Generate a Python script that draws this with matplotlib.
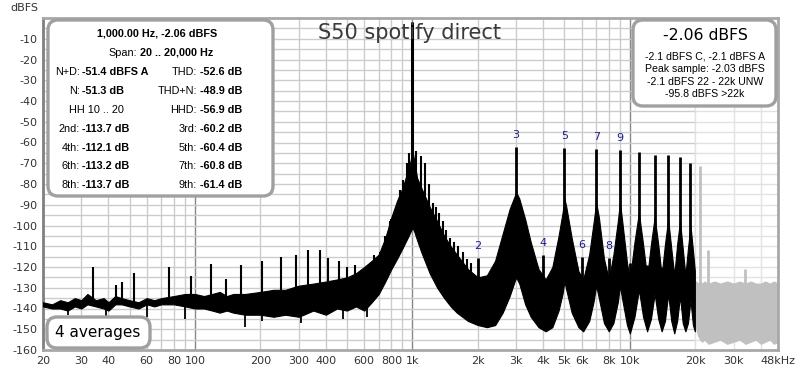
import matplotlib
matplotlib.use('Agg')
import matplotlib.pyplot as plt
import numpy as np
from matplotlib.patches import FancyBboxPatch
from matplotlib.ticker import FixedLocator, NullLocator

plt.rcParams['font.family'] = ['DejaVu Sans']

# spectrum band: frequency (Hz), top and bottom of the black trace (dBFS)
band_freq = [
    20, 22, 24, 26, 28, 30, 32, 35, 38, 40,
    43, 46, 50, 55, 60, 65, 70, 80, 90, 100,
    110, 120, 130, 140, 150, 170, 200, 230, 260, 300,
    350, 400, 450, 500, 550, 600, 650, 700, 750, 800,
    850, 900, 950, 980, 1000, 1020, 1050, 1100, 1200, 1300,
    1400, 1500, 1600, 1800, 2000, 2200, 2400, 2600, 2800, 2950,
    3000, 3100, 3300, 3500, 3800, 4100, 4400, 4700, 4900, 5000,
    5100, 5400, 5800, 6100, 6500, 6800, 7000, 7200, 7600, 8000,
    8400, 8800, 9000, 9200, 9700, 10000, 10500, 11000, 11500, 12000,
    12500, 13000, 13500, 14000, 14500, 15000, 15500, 16000, 16500, 17000,
    17500, 18000, 18500, 19000, 19500, 19900,
]
band_top = [
    -137, -138, -136, -137, -135, -136, -133, -136, -135, -137,
    -134, -135, -136, -137, -135, -136, -135, -134, -133, -133,
    -134, -133, -132, -134, -133, -133, -132, -131, -131, -129,
    -128, -127, -126, -125, -123, -120, -117, -114, -106, -96,
    -88, -82, -74, -69, -64, -69, -77, -82, -91, -98,
    -105, -110, -114, -121, -125, -124, -117, -104, -92, -86,
    -84, -87, -97, -108, -121, -126, -120, -105, -94, -87,
    -91, -106, -122, -126, -114, -99, -89, -96, -116, -126,
    -114, -98, -89, -97, -118, -126, -108, -94, -109, -125,
    -109, -96, -109, -124, -109, -97, -111, -124, -109, -98,
    -111, -124, -111, -100, -112, -122,
]
band_bottom = [
    -139, -140, -140, -141, -139, -140, -138, -139, -140, -141,
    -138, -138, -139, -140, -138, -139, -138, -138, -139, -140,
    -140, -141, -142, -141, -142, -143, -143, -144, -143, -144,
    -141, -143, -140, -141, -139, -141, -137, -133, -127, -121,
    -116, -111, -106, -103, -101, -103, -107, -113, -123, -130,
    -135, -139, -142, -146, -148, -149, -148, -142, -134, -127,
    -125, -128, -138, -144, -149, -151, -149, -141, -133, -127,
    -131, -142, -149, -151, -146, -137, -129, -135, -147, -151,
    -147, -137, -129, -135, -148, -152, -144, -131, -144, -151,
    -145, -133, -145, -151, -146, -133, -146, -152, -146, -134,
    -147, -151, -147, -136, -148, -151,
]

# fundamental
fund_freq = [1000]
fund_level = [-2.06]

# sideband / hum lines around the fundamental
comb_freq = [34, 43.4, 46, 52.6, 76, 96, 118.6, 139, 163, 203,
             248, 290, 330, 374, 410, 460, 500, 544, 606, 663,
             707, 750, 785, 800, 845, 880, 908, 940, 965, 1035,
             1090, 1140, 1190, 1240, 1280, 1330, 1380, 1420, 1490, 1560,
             1625, 1700, 1780, 1860]
comb_level = [-120, -128.5, -127, -122.7, -120, -124.5, -118.5, -126, -119, -117,
              -115.4, -114, -112, -111.6, -115.5, -117, -120, -119, -121, -114,
              -112.6, -105, -98, -97, -91, -83, -78, -70, -65, -64,
              -66.5, -70, -80, -89, -91, -94, -98, -102, -106, -108,
              -110, -113, -116, -118]

# downward dips of the low frequency trace
dip_freq = [26, 39, 60, 90, 169, 204, 307, 480, 620]
dip_level = [-143, -145.5, -144, -145, -149, -146, -147, -145, -144]

# labelled harmonics
harm_num = [2, 3, 4, 5, 6, 7, 8, 9]
harm_freq = [2000, 3000, 4000, 5000, 6000, 7000, 8000, 9000]
harm_level = [-115.8, -62.3, -114.2, -62.5, -115.3, -62.9, -115.8, -63.5]

# higher harmonics (unlabelled)
high_freq = [10000, 11000, 12000, 13000, 14000, 15000, 16000, 17000, 18000, 19000]
high_level = [-118, -64.5, -119, -66, -120, -66, -121, -67, -121, -70]

# grey part above 20 kHz
grey_freq = [19900, 20200, 20600, 21000, 21500, 22000, 23000, 24500, 26000, 28000,
             30000, 32000, 34000, 36000, 38000, 40000, 42000, 44000, 46000, 48000]
grey_top = [-128, -127, -128, -127, -128, -127, -128, -127, -128, -127,
            -128, -127, -128, -127, -128, -128, -127, -128, -127, -128]
grey_bottom = [-148, -150, -153, -155, -156, -155, -157, -156, -155, -157,
               -156, -155, -157, -156, -155, -157, -156, -155, -157, -156]
grey_spike_freq = [21000, 22900, 33700]
grey_spike_level = [-71.5, -112, -121]

xtick_vals = [20, 30, 40, 60, 80, 100, 200, 300, 400, 600, 800, 1000, 2000, 3000,
              4000, 5000, 6000, 8000, 10000, 20000, 30000, 48000]
xtick_text = ['20', '30', '40', '60', '80', '100', '200', '300', '400', '600', '800',
              '1k', '2k', '3k', '4k', '5k', '6k', '8k', '10k', '20k', '30k', '48kHz']
ytick_vals = list(range(-160, 0, 10))

info_rows = [
    ('N+D:', '-51.4 dBFS A', 'THD:', '-52.6 dB'),
    ('N:', '-51.3 dB', 'THD+N:', '-48.9 dB'),
    ('', '', 'HHD:', '-56.9 dB'),
    ('2nd:', '-113.7 dB', '3rd:', '-60.2 dB'),
    ('4th:', '-112.1 dB', '5th:', '-60.4 dB'),
    ('6th:', '-113.2 dB', '7th:', '-60.8 dB'),
    ('8th:', '-113.7 dB', '9th:', '-61.4 dB'),
]
level_lines = ['-2.1 dBFS C, -2.1 dBFS A', 'Peak sample: -2.03 dBFS',
               '-2.1 dBFS 22 - 22k UNW', '-95.8 dBFS >22k']

fig = plt.figure(figsize=(8, 3.75), dpi=100)
ax = fig.add_axes([43 / 800, 25 / 375, 735 / 800, 332 / 375])
ax.set_xscale('log')
ax.set_xlim(20, 48000)
ax.set_ylim(-160, 0)

# grid
for dec in [10, 100, 1000, 10000]:
    for m in range(1, 10):
        f = m * dec
        if 20 < f < 48000:
            dark = m == 1
            ax.axvline(f, color='#888888' if dark else '#cccccc', lw=1.0, zorder=1)
for lv in range(-155, 0, 5):
    ax.axhline(lv, color='#cccccc', lw=1.0, zorder=1)
ax.axvspan(20000, 48000, color='white', alpha=0.45, lw=0, zorder=1.5)


def base(freqs):
    # bottom of the band under each line, so lines start inside the trace
    return np.interp(np.log10(freqs), np.log10(band_freq), band_bottom) + 2


# trace
ax.fill_between(band_freq, band_bottom, band_top, color='black', lw=0.8, zorder=3)
ax.vlines(comb_freq, base(comb_freq), comb_level, color='black', lw=1.5, zorder=3)
ax.vlines(dip_freq, dip_level, -138, color='black', lw=1.3, zorder=3)
ax.vlines(harm_freq, base(harm_freq), harm_level, color='black', lw=2, zorder=3)
ax.vlines(high_freq, base(high_freq), high_level, color='black', lw=2, zorder=3)
ax.vlines(fund_freq, -90, fund_level, color='black', lw=2.2, zorder=3)
ax.fill_between(grey_freq, grey_bottom, grey_top, color='#c0c0c0', lw=0.8, zorder=2.5)
ax.vlines(grey_spike_freq, -130, grey_spike_level, color='#c0c0c0', lw=2, zorder=2.5)

for n, f, lv in zip(harm_num, harm_freq, harm_level):
    ax.annotate(str(n), (f, lv), xytext=(0, 5), textcoords='offset points',
                ha='center', va='bottom', color='#1c1c8c', fontsize=8, zorder=4)

ax.xaxis.set_major_locator(FixedLocator(xtick_vals))
ax.xaxis.set_minor_locator(NullLocator())
ax.set_xticklabels(xtick_text)
ax.set_yticks(ytick_vals)
ax.set_yticklabels([str(v) for v in ytick_vals])
ax.tick_params(length=0, labelsize=8, colors='#333333', pad=4)
for s in ax.spines.values():
    s.set_color('#a8a8a8')
    s.set_linewidth(2)
ax.spines['left'].set_color('#808080')

# layout helpers in figure pixels (dpi 100)
T = fig.dpi_scale_trans


def P(x, y):
    return x / 100, (375 - y) / 100


def box(x0, y0, x1, y1):
    b = FancyBboxPatch(P(x0, y1), (x1 - x0) / 100, (y1 - y0) / 100,
                       boxstyle='round,pad=0,rounding_size=0.1', transform=T,
                       fc='white', ec='#a0a0a0', lw=2.4, zorder=10, clip_on=False)
    ax.add_patch(b)


def txt(x, y, s, **kw):
    kw.setdefault('family', 'Liberation Sans')
    kw.setdefault('fontsize', 7.8)
    kw.setdefault('va', 'center')
    ax.text(*P(x, y), s, transform=T, zorder=11, clip_on=False, color='black', **kw)


ax.text(*P(410, 33), 'S50 spotify direct', transform=T, ha='center', va='center',
        fontsize=15, color='#3a3a3a', zorder=4)
fig.text(10 / 800, 1 - 8 / 375, 'dBFS', fontsize=8, color='#333333', va='center')

# left info box
box(48, 20, 273, 196)
txt(157, 33.5, '1,000.00 Hz, -2.06 dBFS', ha='center', weight='bold')
txt(137, 52.7, 'Span:', ha='right')
txt(139.5, 52.7, '20 .. 20,000 Hz', ha='left', weight='bold')
for i, (l1, v1, l2, v2) in enumerate(info_rows):
    y = 72.3 + i * 18.83
    if l1:
        txt(80, y, l1, ha='right')
        txt(82.5, y, v1, ha='left', weight='bold')
    txt(197, y, l2, ha='right')
    txt(200, y, v2, ha='left', weight='bold')
txt(96.5, 72.3 + 2 * 18.83, 'HH 10 .. 20', ha='center')

# right level box
box(633, 20, 776, 106)
txt(705, 36, '-2.06 dBFS', ha='center', family='DejaVu Sans', fontsize=11.3)
for i, s in enumerate(level_lines):
    txt(705, 56.7 + i * 12.55, s, ha='center', fontsize=7.6)

# averages box
box(47, 317, 150, 348)
txt(98, 333, '4 averages', ha='center', family='DejaVu Sans', fontsize=11)

fig.savefig('out.png', dpi=100)
